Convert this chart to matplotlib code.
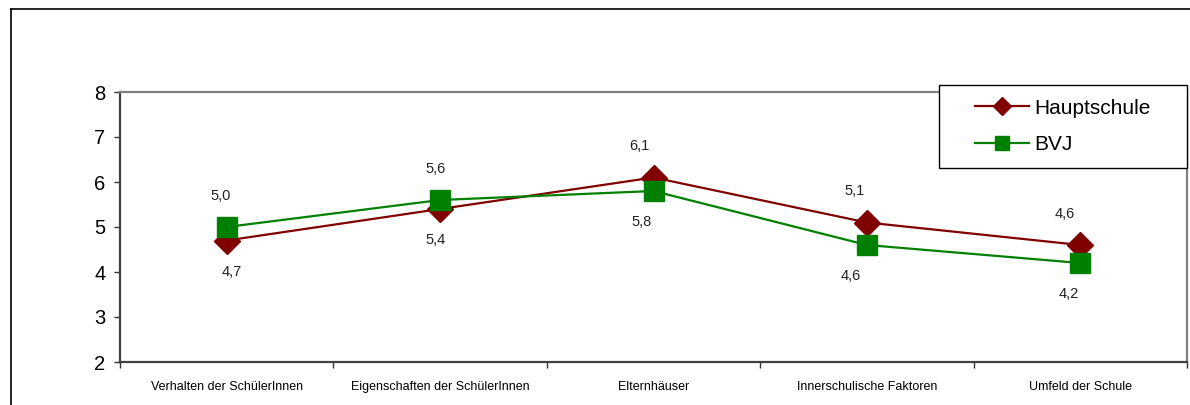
import matplotlib
matplotlib.use("Agg")
import matplotlib.pyplot as plt
from matplotlib.lines import Line2D
from matplotlib.patches import Rectangle

plt.rcParams["font.family"] = ["Liberation Sans", "DejaVu Sans"]

categories = ["Verhalten der SchülerInnen", "Eigenschaften der SchülerInnen",
              "Elternhäuser", "Innerschulische Faktoren", "Umfeld der Schule"]
hauptschule = [4.7, 5.4, 6.1, 5.1, 4.6]
bvj = [5.0, 5.6, 5.8, 4.6, 4.2]
hs_labels = ["4,7", "5,4", "6,1", "5,1", "4,6"]
bvj_labels = ["5,0", "5,6", "5,8", "4,6", "4,2"]
# +1 = label above the point, -1 = below
hs_side = [-1, -1, 1, 1, 1]
bvj_side = [1, 1, -1, -1, -1]
yticks = [2, 3, 4, 5, 6, 7, 8]

W, H = 1190, 405
fig = plt.figure(figsize=(W / 100, H / 100), dpi=100)

# outer chart border (top and left edges visible)
fig.add_artist(Line2D([11 / W, 1.01], [1 - 9 / H, 1 - 9 / H], color="black", lw=1.2))
fig.add_artist(Line2D([11 / W, 11 / W], [-0.01, 1 - 9 / H], color="black", lw=1.2))

ax = fig.add_axes([120 / W, (H - 362) / H, (1187 - 120) / W, (362 - 92) / H])
x = list(range(len(categories)))

ax.plot(x, hauptschule, color="#800000", lw=1.6, marker="D", ms=13.5,
        label="Hauptschule", zorder=3)
ax.plot(x, bvj, color="#008000", lw=1.6, marker="s", ms=14.5,
        label="BVJ", zorder=4)

# horizontal label nudges in pixels (Excel places them a bit off-centre)
hs_dx = [5, -5, -14, -12, -16]
bvj_dx = [-6, -5, -12, -16, -12]
for i in x:
    ax.annotate(hs_labels[i], (i, hauptschule[i]), xytext=(hs_dx[i] * 0.72, hs_side[i] * 22.5),
                textcoords="offset points", ha="center", va="center", fontsize=10.5,
                color="#222222")
    ax.annotate(bvj_labels[i], (i, bvj[i]), xytext=(bvj_dx[i] * 0.72, bvj_side[i] * 22.5),
                textcoords="offset points", ha="center", va="center", fontsize=10.5,
                color="#222222")

ax.set_xlim(-0.5, len(categories) - 0.5)
ax.set_ylim(2, 8)
ax.set_yticks(yticks)
ax.set_yticklabels([str(v) for v in yticks], fontsize=14.5)
ax.set_xticks(x)
ax.set_xticklabels(categories, fontsize=9)
ax.set_xticks([i - 0.5 for i in range(len(categories) + 1)], minor=True)
ax.tick_params(axis="x", which="major", length=0, pad=14)
ax.tick_params(axis="x", which="minor", length=4, width=1, color="#333333")
ax.tick_params(axis="y", length=4.5, width=1, color="#333333", pad=6)

for s in ["left", "bottom"]:
    ax.spines[s].set_color("#404040")
    ax.spines[s].set_linewidth(1.6)
for s in ["top", "right"]:
    ax.spines[s].set_color("#808080")
    ax.spines[s].set_linewidth(1.6)

# legend box
fig.add_artist(Rectangle((939 / W, 1 - 168 / H), (1187 - 939) / W, (168 - 85) / H,
                         transform=fig.transFigure, facecolor="white",
                         edgecolor="black", lw=1, zorder=5))
leg = fig.legend(loc="center", bbox_to_anchor=((939 + 1187) / 2 / W, 1 - (85 + 168) / 2 / H),
                 frameon=False, fontsize=15, handlelength=2.6, handletextpad=0.25,
                 labelspacing=0.85, markerscale=0.7)
leg.set_zorder(6)

fig.savefig("out.png", dpi=100)
